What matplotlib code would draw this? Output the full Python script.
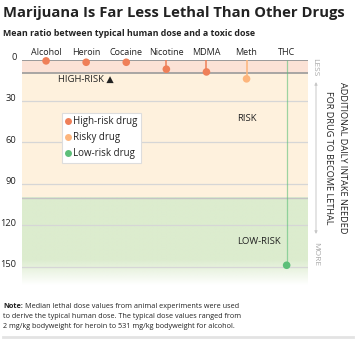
import numpy as np
import matplotlib
matplotlib.use("Agg")
import matplotlib.pyplot as plt
from matplotlib.lines import Line2D
from matplotlib.transforms import offset_copy

plt.rcParams['font.family'] = ['Open Sans', 'DejaVu Sans']

# --- data -------------------------------------------------------------
drugs = ["Alcohol", "Heroin", "Cocaine", "Nicotine", "MDMA", "Meth", "THC"]
ratio = [1, 2, 2, 7, 9, 14, 149]
y_ticks = [0, 30, 60, 90, 120, 150]
high_risk_limit = 10
low_risk_limit = 100
legend_labels = ["High-risk drug", "Risky drug", "Low-risk drug"]

# --- styling ----------------------------------------------------------
C_HIGH, C_RISKY, C_LOW = "#ef7f58", "#fdb57c", "#5dbf79"
BAND_HIGH, BAND_RISKY, BAND_LOW = "#fbe2d6", "#fef1dd", "#dcecce"
TEXT = "#222222"

W, H = 356, 340
fig = plt.figure(figsize=(W / 100, H / 100), dpi=100)
ax = fig.add_axes([22 / W, 55 / H, 285.5 / W, 225.5 / H])
YMAX = 163.3
X0, X1 = -0.6, 6.52
ax.set_xlim(X0, X1)
ax.set_ylim(YMAX, 0)

# risk bands
ax.axhspan(0, high_risk_limit, color=BAND_HIGH, lw=0, zorder=0)
ax.axhspan(high_risk_limit, low_risk_limit, color=BAND_RISKY, lw=0, zorder=0)
n = 200
vals = np.linspace(low_risk_limit, YMAX, n)
alpha = np.clip((YMAX - vals) / (YMAX - 145), 0, 1)
rgb = matplotlib.colors.to_rgb(BAND_LOW)
grad = np.zeros((n, 1, 4))
grad[..., 0], grad[..., 1], grad[..., 2] = rgb
grad[:, 0, 3] = alpha
ax.imshow(grad, extent=(X0, X1, low_risk_limit, YMAX), origin="lower",
          aspect="auto", zorder=0, interpolation="bilinear")
ax.set_xlim(X0, X1)
ax.set_ylim(YMAX, 0)

for v in y_ticks[1:]:
    ax.axhline(v, color="#d6d6d6", lw=0.9, zorder=1)
ax.axhline(0, color="#9a9a9a", lw=1.4, zorder=2)
ax.axhline(high_risk_limit, color="#9a9a9a", lw=1.2, zorder=2)
ax.axhline(low_risk_limit, color="#c4c4c4", lw=1.0, zorder=2)

for s in ax.spines.values():
    s.set_visible(False)

# stems + dots
x = np.arange(len(drugs))
colors = [C_HIGH if r < high_risk_limit else (C_RISKY if r < low_risk_limit else C_LOW)
          for r in ratio]
stem_w = [1.3 if c != C_LOW else 0.9 for c in colors]
stem_a = [0.85 if c != C_LOW else 0.6 for c in colors]
for xi, r, c, w, a in zip(x, ratio, colors, stem_w, stem_a):
    ax.vlines(xi, 0, r, colors=c, lw=w, alpha=a, zorder=3)
ax.scatter(x, ratio, s=30, c=colors, zorder=4, clip_on=False, linewidths=0)

# axes labels
ax.xaxis.tick_top()
ax.set_xticks(x)
ax.set_xticklabels(drugs, fontsize=6.5, color=TEXT)
ax.tick_params(axis="x", length=0, pad=2)
ax.set_yticks(y_ticks)
ax.set_yticklabels([str(t) for t in y_ticks], fontsize=6.7, color=TEXT)
ax.tick_params(axis="y", length=0, pad=4)
for lab in ax.get_yticklabels():
    lab.set_transform(offset_copy(lab.get_transform(), fig=fig, x=0, y=3, units="dots"))

# zone labels
ax.text(1.0, 14.5, "HIGH-RISK ▲", fontsize=6.8, color=TEXT, ha="center", va="center",
        family=["Open Sans", "DejaVu Sans"])
ax.text(5.0, 43, "RISK", fontsize=6.8, color=TEXT, ha="center", va="center")
ax.text(5.3, 131.5, "LOW-RISK", fontsize=6.8, color=TEXT, ha="center", va="center")

# legend
handles = [Line2D([], [], ls="none", marker="o", ms=5, mec="none", mfc=c)
           for c in (C_HIGH, C_RISKY, C_LOW)]
leg = fig.legend(handles, legend_labels, loc="upper left",
                 bbox_to_anchor=(62 / W, 1 - 113 / H), borderaxespad=0,
                 fontsize=7, handlelength=0.5, handletextpad=0.3,
                 labelspacing=0.5, borderpad=0.35, fancybox=False,
                 edgecolor="#dddddd", framealpha=1)
leg.get_frame().set_linewidth(0.8)
for t in leg.get_texts():
    t.set_color(TEXT)

# right-hand annotation
fig.text(315 / W, 1 - 67 / H, "LESS", rotation=-90, fontsize=6, color="#a8a8a8",
         ha="center", va="center")
fig.text(316 / W, 1 - 254 / H, "MORE", rotation=-90, fontsize=6, color="#a8a8a8",
         ha="center", va="center")
ax.annotate("", xy=(316 / W, 1 - 234 / H), xytext=(316 / W, 1 - 82 / H),
            xycoords="figure fraction", textcoords="figure fraction",
            arrowprops=dict(arrowstyle="<|-|>", color="#c8c8c8", lw=0.7,
                            mutation_scale=4, shrinkA=0, shrinkB=0))
fig.text(343 / W, 1 - 158 / H, "ADDITIONAL DAILY INTAKE NEEDED", rotation=-90,
         fontsize=6.6, color=TEXT, ha="center", va="center")
fig.text(329 / W, 1 - 158 / H, "FOR DRUG TO BECOME LETHAL", rotation=-90,
         fontsize=6.6, color=TEXT, ha="center", va="center")

# titles
fig.text(3 / W, 1 - 13 / H, "Marijuana Is Far Less Lethal Than Other Drugs",
         fontsize=10.6, weight="bold", color=TEXT, ha="left", va="center")
fig.text(3 / W, 1 - 33 / H, "Mean ratio between typical human dose and a toxic dose",
         fontsize=6.4, weight="bold", color=TEXT, ha="left", va="center")

# footnote
note_lines = [
    "Median lethal dose values from animal experiments were used",
    "to derive the typical human dose. The typical dose values ranged from",
    "2 mg/kg bodyweight for heroin to 531 mg/kg bodyweight for alcohol.",
]
NOTE_FS = 5.2
renderer = fig.canvas.get_renderer()
nt = fig.text(3 / W, 1 - 307 / H, "Note:", fontsize=NOTE_FS, weight="bold", color=TEXT,
              ha="left", va="center")
bb = nt.get_window_extent(renderer)
fig.text(bb.x1 / W + 2 / W, 1 - 307 / H, note_lines[0], fontsize=NOTE_FS, color=TEXT,
         ha="left", va="center")
fig.text(3 / W, 1 - 317 / H, note_lines[1], fontsize=NOTE_FS, color=TEXT,
         ha="left", va="center")
fig.text(3 / W, 1 - 327 / H, note_lines[2], fontsize=NOTE_FS, color=TEXT,
         ha="left", va="center")

fig.add_artist(Line2D([3 / W, 353 / W], [1 - 337 / H] * 2, color="#e3e3e3", lw=2))

fig.savefig("out.png", dpi=100)
